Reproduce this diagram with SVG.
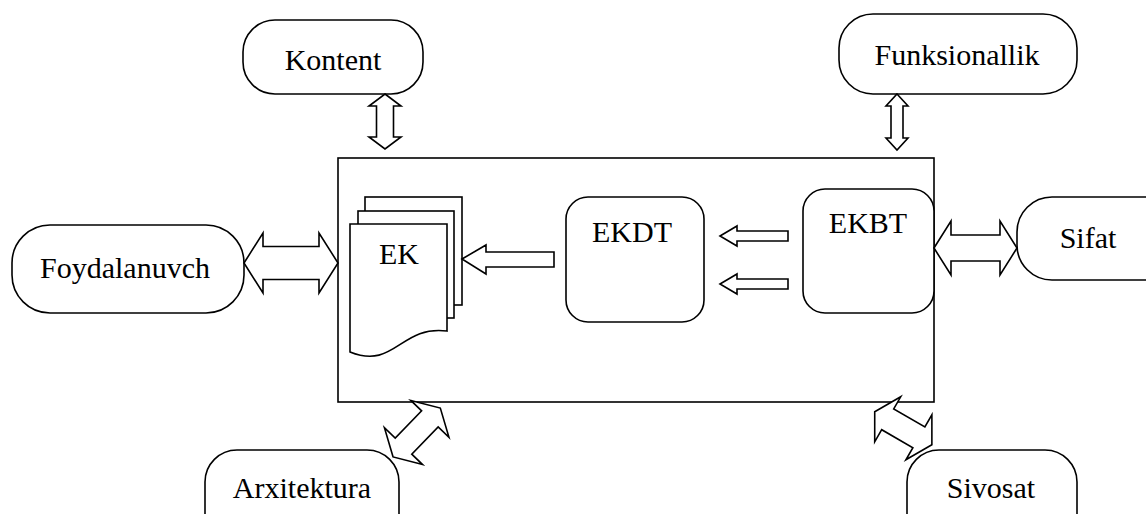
<svg xmlns="http://www.w3.org/2000/svg" width="1146" height="514" viewBox="0 0 1146 514">
<style>
.shape{fill:#fff;stroke:#000;stroke-width:1.6;stroke-linejoin:miter}
.arrow{fill:#fff;stroke:#000;stroke-width:1.6;stroke-linejoin:miter}
.lbl{font-family:'Liberation Serif','Times New Roman',serif;font-size:30px;fill:#000;text-anchor:middle}
</style>
<rect width="1146" height="514" fill="#fff"/>
<g id="system">
<rect class="shape" x="338" y="158" width="596" height="244"/>
</g>
<g id="kontent">
<rect class="shape" x="243" y="20" width="180" height="74" rx="32" ry="32"/>
<text class="lbl" x="333" y="70">Kontent</text>
</g>
<g id="funksionallik">
<rect class="shape" x="839" y="14" width="238" height="80" rx="34" ry="34"/>
<text class="lbl" x="957" y="65">Funksionallik</text>
</g>
<g id="foydalanuvch">
<rect class="shape" x="12" y="225" width="232" height="88" rx="38" ry="38"/>
<text class="lbl" x="125" y="278">Foydalanuvch</text>
</g>
<g id="sifat">
<rect class="shape" x="1017" y="197" width="180" height="83" rx="35" ry="35"/>
<text class="lbl" x="1088" y="248">Sifat</text>
</g>
<g id="arxitektura">
<rect class="shape" x="205" y="450" width="194" height="100" rx="32" ry="32"/>
<text class="lbl" x="302" y="498">Arxitektura</text>
</g>
<g id="sivosat">
<rect class="shape" x="907" y="450" width="170" height="100" rx="32" ry="32"/>
<text class="lbl" x="991" y="498">Sivosat</text>
</g>
<g id="ek">
<rect class="shape" x="365" y="197" width="97" height="108"/>
<rect class="shape" x="358" y="211" width="96" height="107"/>
<path class="shape" d="M350,224 H447 V331 C400,325 395,370 350,352 Z"/>
<text class="lbl" x="399" y="264">EK</text>
</g>
<g id="ekdt">
<rect class="shape" x="566" y="197" width="138" height="125" rx="22" ry="22"/>
<text class="lbl" x="632" y="242">EKDT</text>
</g>
<g id="ekbt">
<rect class="shape" x="803" y="189" width="131" height="124" rx="22" ry="22"/>
<text class="lbl" x="868" y="233">EKBT</text>
</g>
<g id="connectors">
<polygon class="arrow" points="385,94 401,106 393.5,106 393.5,137 401,137 385,149 369,137 376.5,137 376.5,106 369,106"/>
<polygon class="arrow" points="897,94 908,106 903,106 903,138 908,138 897,150 886,138 891,138 891,106 886,106"/>
<polygon class="arrow" points="244,263 263,233 263,246.5 319,246.5 319,233 338,263 319,293 319,279.5 263,279.5 263,293"/>
<polygon class="arrow" points="934,248 951,221 951,235 1000,235 1000,221 1017,248 1000,275 1000,261 951,261 951,275"/>
<polygon class="arrow" points="462,259 486,245 486,252 554,252 554,267 486,267 486,274"/>
<polygon class="arrow" points="720,236 737,226 737,231 788,231 788,241 737,241 737,246"/>
<polygon class="arrow" points="720,284 737,274 737,279 788,279 788,289 737,289 737,294"/>
<polygon class="arrow" points="-34,0 -19,-26.5 -19,-11.5 19,-11.5 19,-26.5 34,0 19,26.5 19,11.5 -19,11.5 -19,26.5" transform="translate(416.7,432.5) rotate(-46)"/>
<polygon class="arrow" points="-33,0 -18,-26 -18,-12 18,-12 18,-26 33,0 18,26 18,12 -18,12 -18,26" transform="translate(903.3,428.3) rotate(30)"/>
</g>
</svg>
